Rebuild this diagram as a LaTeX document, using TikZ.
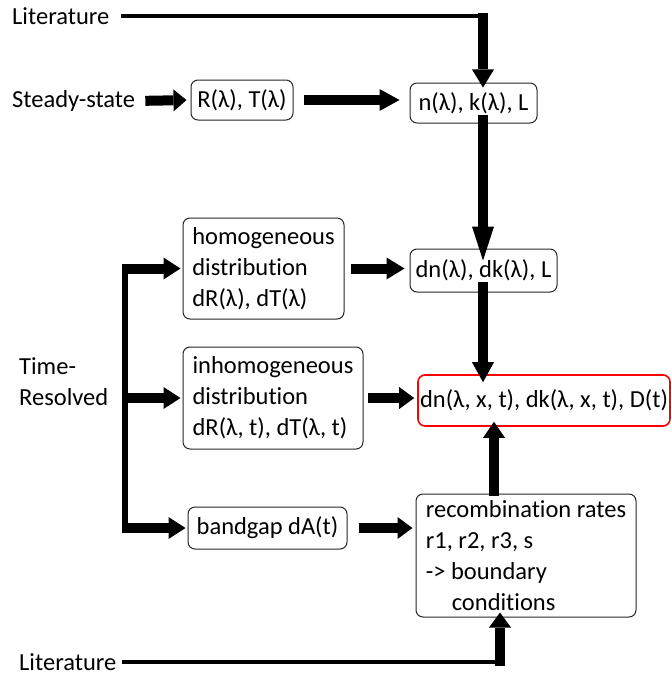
\documentclass[tikz,border=0pt]{standalone}
\usepackage{fontspec}
\setmainfont[Ligatures=NoCommon]{Carlito}
\usetikzlibrary{arrows.meta}

\begin{document}
\begin{tikzpicture}[x=1pt,y=-1pt]

      \tikzset{every node/.style={font=\fontsize{24.5}{31}\selectfont},
               box/.style={draw=black!85, line width=1pt, rounded corners=7pt, inner sep=0pt, align=left},
               fat/.style={line width=10pt, -{Triangle[width=22pt,length=#1,line width=0pt]}},
               fat/.default=18pt,
               thinline/.style={line width=4.5pt},
               rail/.style={line width=6pt},
               label/.style={inner sep=0pt, anchor=west}}

      \useasboundingbox (0,0) rectangle (671,677);

% Labels
      \node[label] (lit1) at (12,16) {Literature};
      \node[label] (steady) at (12,101) {Steady-state};
      \node[label, align=left] (timeres) at (19,382) {Time-\\Resolved};
      \node[label] (lit2) at (19,662) {Literature};

% Boxes
	%Steady-state
      \node[box, minimum width=102pt, minimum height=40pt] (rt) at (242,100) {R(λ), T(λ)};
      \node[box, minimum width=127pt, minimum height=40pt] (nk) at (473.5,103) {n(λ), k(λ), L};

	%Time-resolved
      \node[box, minimum width=161pt, minimum height=101pt] (homog) at (263.5,268.5) {homogeneous\\distribution\\dR(λ), dT(λ)};
      \node[box, minimum width=180pt, minimum height=102pt] (inhomog) at (273,398) {inhomogeneous\\distribution\\dR(λ, t), dT(λ, t)};
      \node[box, minimum width=159pt, minimum height=42pt] (gap) at (267.5,528) {bandgap dA(t)};
      \node[box, minimum width=147pt, minimum height=43pt] (dn) at (483.5,270.5) {dn(λ), dk(λ), L};
      \node[box, minimum width=220pt, minimum height=123pt] (recomb) at (526,555.5) {recombination rates\\r1, r2, r3, s\\-> boundary\\\hspace*{26pt}conditions};

	%Result
      \node[box, draw=red, line width=1.6pt, minimum width=252pt, minimum height=51pt] (result) at (544,400.5) {dn(λ, x, t), dk(λ, x, t), D(t)};

% Corners
      \coordinate (c1) at (483,13.5);
      \coordinate (c2) at (500,665.5);
      \coordinate (tb) at (125,265);
      \coordinate (tm) at (125,398);
      \coordinate (tbot) at (125,530);

% Arrows
	%Literature
      \draw[thinline, shorten <=12pt] (lit1.east) -- (c1 |- lit1.east);
      \draw[fat] (c1) -- ([yshift=-5pt]nk.north -| c1);
      \draw[thinline, shorten <=6pt] (lit2.east) -- (c2 |- lit2.east);
      \draw[fat=15pt] (c2) -- ([yshift=5pt]recomb.south -| c2);

	%Steady-state
      \path[fat=13pt, shorten <=10pt, shorten >=4pt] (steady.east) edge (rt.west);
      \path[fat=20pt, shorten <=10pt, shorten >=10pt] (rt.east) edge (rt.east -| nk.west);
      \path[fat=34pt] ([yshift=9pt]nk.south -| c1) edge ([yshift=-12pt]dn.north -| c1);

	%Time-resolved
      \draw[rail] (tb) -- (tbot);
      \path[fat=17pt, shorten >=2pt] ([xshift=-3pt]tb |- homog.west) edge (homog.west);
      \path[fat=17pt, shorten >=2pt] ([xshift=-3pt]tm) edge (inhomog.west);
      \path[fat=17pt, shorten >=2pt] ([xshift=-3pt]tb |- gap.west) edge (gap.west);
      \path[fat=18pt, shorten <=6pt, shorten >=5pt] (homog.east) edge (homog.east -| dn.west);
      \path[fat=15pt, shorten <=4pt, shorten >=3pt] (inhomog.east) edge (inhomog.east -| result.west);
      \path[fat=15pt, shorten <=11pt, shorten >=3pt] (gap.east) edge (gap.east -| recomb.west);
      \path[fat=20pt] ([yshift=11pt]dn.south -| c1) edge ([yshift=-8pt]result.north -| c1);
      \path[fat=16pt] ([yshift=-2pt]recomb.north -| 494,0) edge ([yshift=5pt]result.south -| 494,0);

	\end{tikzpicture}
\end{document}
